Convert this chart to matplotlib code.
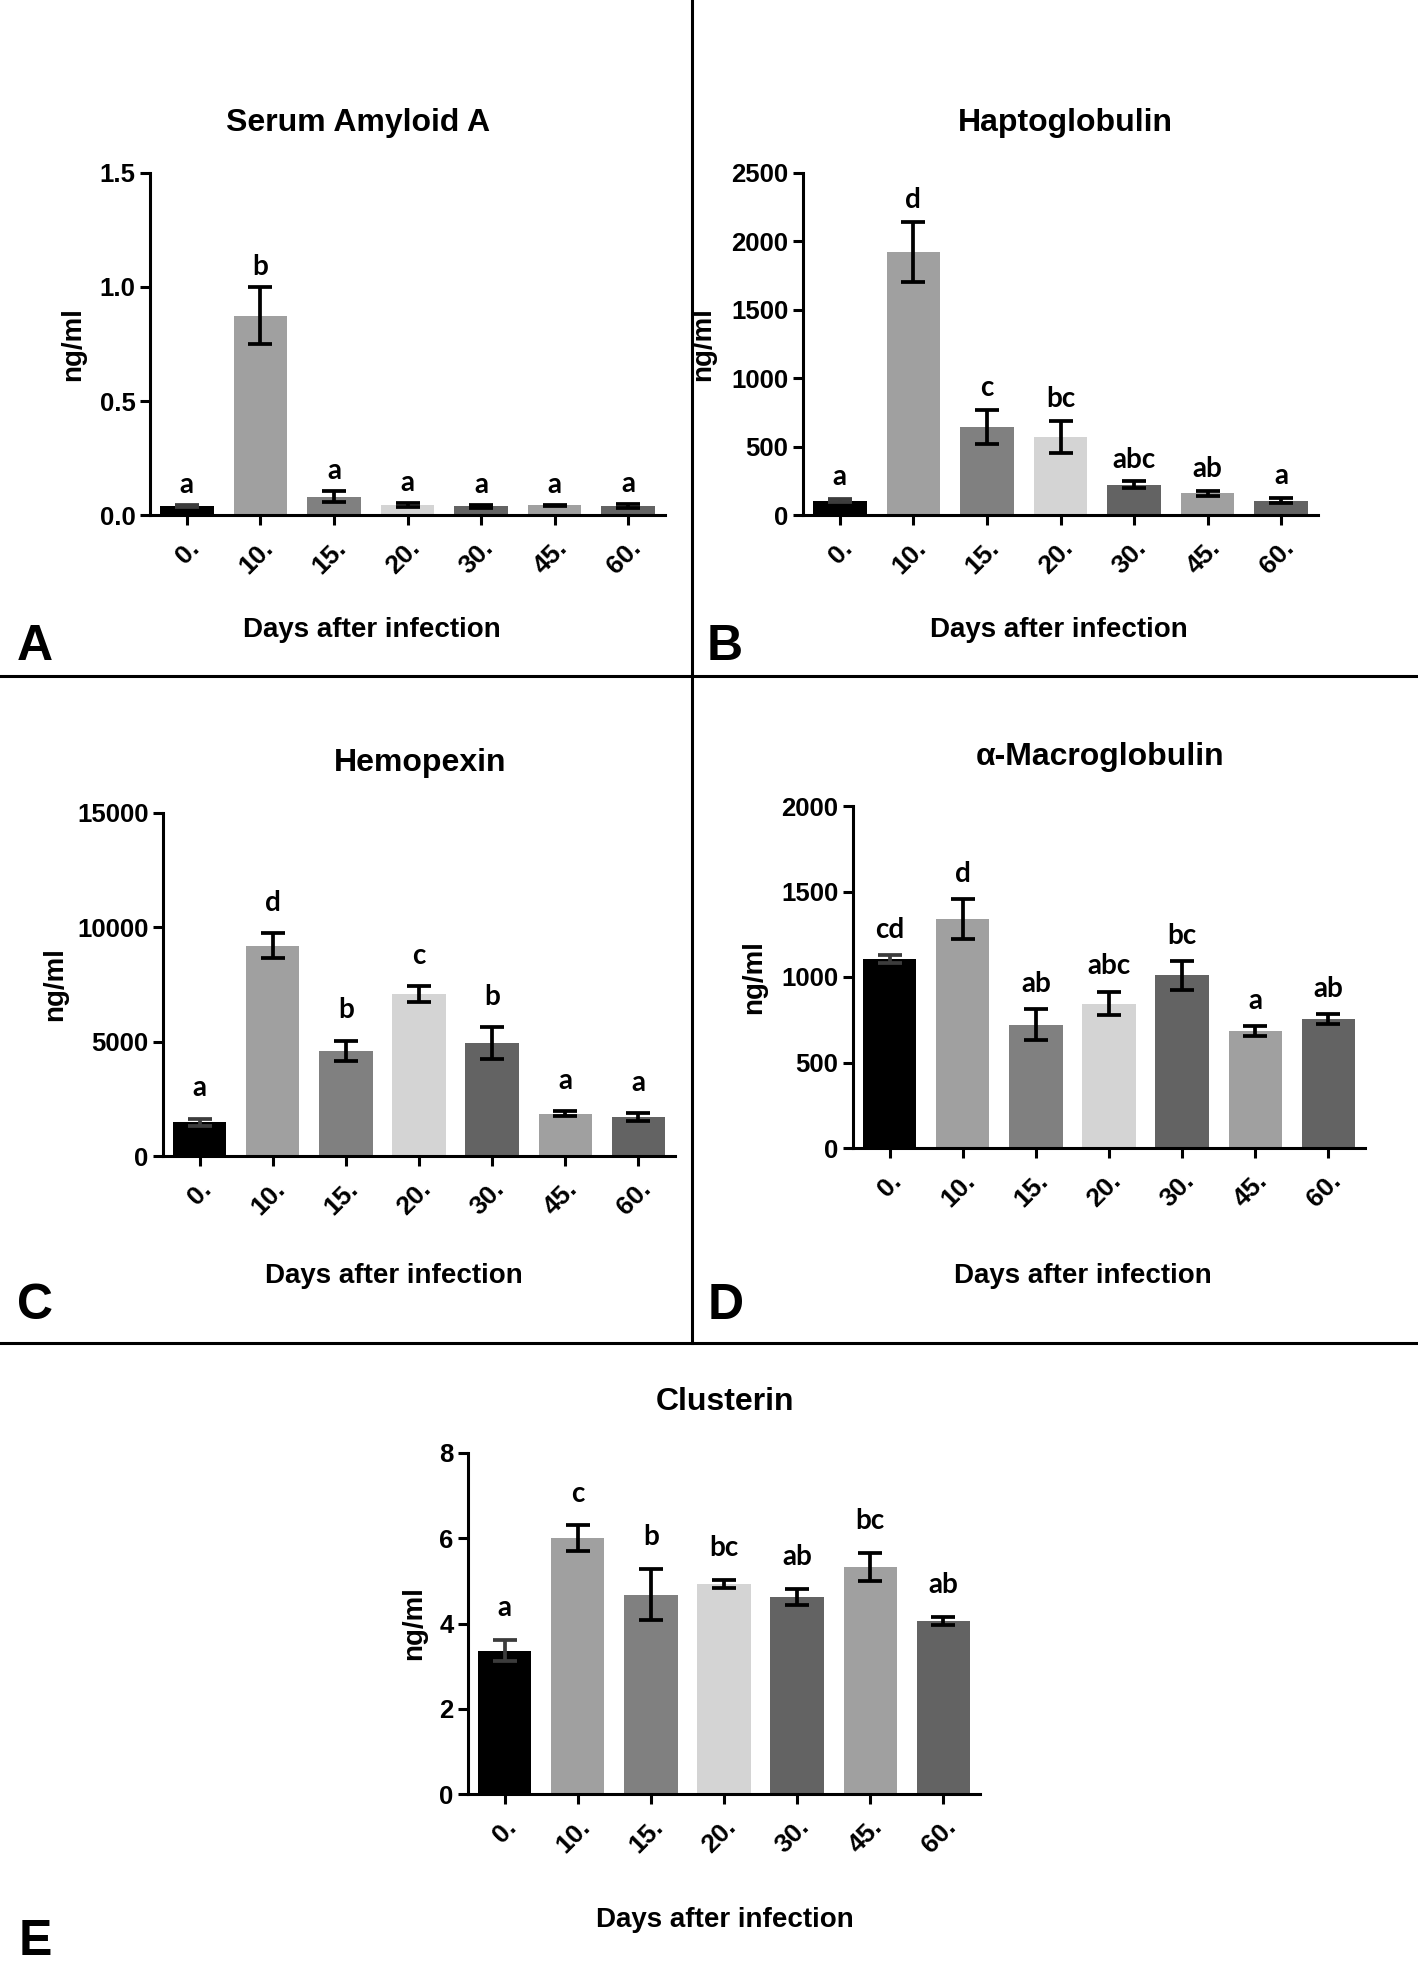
import matplotlib
matplotlib.use("Agg")
import matplotlib.pyplot as plt
import matplotlib.transforms as mtransforms
from matplotlib.lines import Line2D

W, H = 1418, 1970

days = ["0.", "10.", "15.", "20.", "30.", "45.", "60."]
bar_colors = ["#000000", "#a0a0a0", "#808080", "#d4d4d4", "#636363", "#a0a0a0", "#636363"]

# Serum Amyloid A
saa_mean = [0.04, 0.875, 0.08, 0.045, 0.038, 0.042, 0.04]
saa_sem = [0.003, 0.125, 0.025, 0.008, 0.006, 0.002, 0.008]
saa_letters = ["a", "b", "a", "a", "a", "a", "a"]

# Haptoglobulin
hp_mean = [105, 1925, 645, 570, 220, 160, 105]
hp_sem = [12, 220, 125, 120, 25, 18, 18]
hp_letters = ["a", "d", "c", "bc", "abc", "ab", "a"]

# Hemopexin
hpx_mean = [1480, 9200, 4600, 7080, 4950, 1850, 1700]
hpx_sem = [150, 550, 450, 350, 700, 100, 180]
hpx_letters = ["a", "d", "b", "c", "b", "a", "a"]

# alpha-Macroglobulin
am_mean = [1105, 1340, 720, 845, 1010, 685, 755]
am_sem = [25, 118, 90, 70, 85, 28, 28]
am_letters = ["cd", "d", "ab", "abc", "bc", "a", "ab"]

# Clusterin
clu_mean = [3.36, 6.0, 4.68, 4.93, 4.62, 5.32, 4.06]
clu_sem = [0.25, 0.3, 0.6, 0.1, 0.19, 0.33, 0.1]
clu_letters = ["a", "c", "b", "bc", "ab", "bc", "ab"]

plt.rcParams["font.family"] = ["Liberation Sans", "DejaVu Sans"]
plt.rcParams["font.weight"] = "bold"

fig = plt.figure(figsize=(W / 100, H / 100), dpi=100)


def fx(x):
    return x / W


def fy(y):
    return 1 - y / H


def panel(box, mean, sem, letters, title, yticks, ylab_x, title_xy, xlab_xy,
          tag, tag_xy, gap, fmt="{:d}"):
    left, top, right, bottom = box
    ax = fig.add_axes([fx(left), fy(bottom), (right - left) / W, (bottom - top) / H])
    x = list(range(len(days)))
    ax.bar(x, mean, width=0.73, color=bar_colors, edgecolor="none", zorder=2)
    for i in x:
        ec = "#3c3c3c" if i == 0 else "black"
        ax.errorbar(i, mean[i], yerr=sem[i], fmt="none", ecolor=ec,
                    elinewidth=2.7, capsize=8.5, capthick=2.7, zorder=3)
    ymax = yticks[-1]
    for i in x:
        ax.text(i, mean[i] + sem[i] + gap * ymax, letters[i], ha="center",
                va="baseline", fontsize=20, fontweight="bold", family="Lato")
    ax.set_xlim(-0.5, 6.5)
    ax.set_ylim(0, ymax)
    ax.set_yticks(yticks)
    ax.set_yticklabels([fmt.format(t) for t in yticks])
    ax.set_xticks(x)
    ax.set_xticklabels(days, rotation=45, ha="right", rotation_mode="anchor")
    shift = mtransforms.ScaledTranslation(-6 / 72, -2 / 72, fig.dpi_scale_trans)
    for lab in ax.get_xticklabels():
        lab.set_transform(lab.get_transform() + shift)
    for s in ["top", "right"]:
        ax.spines[s].set_visible(False)
    for s in ["left", "bottom"]:
        ax.spines[s].set_linewidth(2.2)
    ax.tick_params(axis="both", width=2.2, length=7, labelsize=18.5)
    ax.tick_params(axis="x", pad=8, labelsize=19)
    ax.set_ylabel("ng/ml", fontsize=20, fontweight="bold")
    ax.yaxis.set_label_coords(ylab_x, 0.5)
    fig.text(fx(title_xy[0]), fy(title_xy[1]), title, ha="center", va="center",
             fontsize=23, fontweight="bold")
    fig.text(fx(xlab_xy[0]), fy(xlab_xy[1]), "Days after infection", ha="center",
             va="center", fontsize=20, fontweight="bold")
    fig.text(fx(tag_xy[0]), fy(tag_xy[1]), tag, ha="center", va="center",
             fontsize=36, fontweight="bold")
    return ax


panel((150, 173, 665, 515), saa_mean, saa_sem, saa_letters, "Serum Amyloid A",
      [0.0, 0.5, 1.0, 1.5], -0.125, (358, 123), (372, 630), "A", (35, 647), 0.035,
      fmt="{:.1f}")
panel((803, 173, 1318, 515), hp_mean, hp_sem, hp_letters, "Haptoglobulin",
      [0, 500, 1000, 1500, 2000, 2500], -0.168, (1065, 123), (1059, 630), "B",
      (725, 647), 0.04)
panel((163, 813, 675, 1156), hpx_mean, hpx_sem, hpx_letters, "Hemopexin",
      [0, 5000, 10000, 15000], -0.185, (420, 763), (394, 1276), "C", (35, 1306), 0.065)
panel((853, 806, 1365, 1148), am_mean, am_sem, am_letters, "α-Macroglobulin",
      [0, 500, 1000, 1500, 2000], -0.168, (1100, 757), (1083, 1276), "D",
      (726, 1306), 0.05)
panel((468, 1453, 980, 1794), clu_mean, clu_sem, clu_letters, "Clusterin",
      [0, 2, 4, 6, 8], -0.08, (725, 1402), (725, 1920), "E", (35, 1942), 0.07)

# panel dividers
for y in (676, 1343):
    fig.add_artist(Line2D([0, 1], [fy(y), fy(y)], color="black", lw=2.2))
fig.add_artist(Line2D([fx(692), fx(692)], [fy(0), fy(1343)], color="black", lw=2.2))

fig.savefig("out.png", dpi=100, facecolor="white")
